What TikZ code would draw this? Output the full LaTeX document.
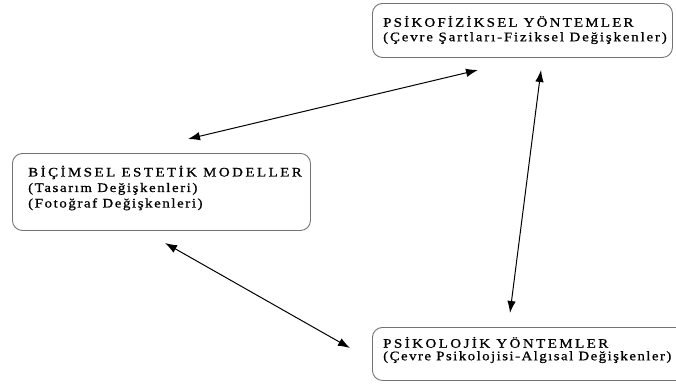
\documentclass[tikz,border=0pt]{standalone}
\usepackage{fontspec}
\setmainfont{Liberation Serif}
\newfontfamily\wideserif[FakeStretch=1.15,FakeBold=0.8]{Liberation Serif}
\usetikzlibrary{arrows.meta}
\newcommand{\ls}[2]{{\addfontfeatures{LetterSpace=#1}#2}}
\begin{document}
\begin{tikzpicture}[x=1pt,y=-1pt,
 box/.style={draw=black!55, line width=0.9pt, rounded corners=10pt, anchor=north west, inner sep=0pt},
 lbl/.style={anchor=west, align=left, inner sep=0pt},
 dar/.style={{Latex[length=12pt,width=8.5pt]}-{Latex[length=12pt,width=8.5pt]}, line width=1pt}]
\useasboundingbox (0,0) rectangle (676,383);
% boxes
\node[box, minimum width=300pt, minimum height=54pt] (psf) at (372,3) {};
\node[box, minimum width=298pt, minimum height=77pt] (bic) at (12,153) {};
\node[box, minimum width=320pt, minimum height=53pt] (psk) at (372,327) {};
% texts
\node[lbl, font=\wideserif\fontsize{13}{14.5}\selectfont] (psft) at (383,30)
 {\ls{17}{PSİKOFİZİKSEL YÖNTEMLER}\\
  \ls{14}{(Çevre Şartları-Fiziksel Değişkenler)}};
\node[lbl, font=\wideserif\fontsize{13}{15.5}\selectfont] (bict) at (28,188)
 {\ls{19}{BİÇİMSEL ESTETİK MODELLER}\\
  \ls{12}{(Tasarım Değişkenleri)}\\
  \ls{12}{(Fotoğraf Değişkenleri)}};
\node[lbl, font=\wideserif\fontsize{13}{12.5}\selectfont] (pskt) at (383,350)
 {\ls{19}{PSİKOLOJİK YÖNTEMLER}\\
  \ls{11}{(Çevre Psikolojisi-Algısal Değişkenler)}};
% arrow ends
\coordinate (a1) at (188,139);
\coordinate (a2) at (478,70);
\coordinate (b1) at (541,70);
\coordinate (b2) at (510,313);
\coordinate (c1) at (165,243);
\coordinate (c2) at (350,348);
\draw[dar] (a1) -- (a2);
\draw[dar] (b1) -- (b2);
\draw[dar] (c1) -- (c2);
\end{tikzpicture}
\end{document}
